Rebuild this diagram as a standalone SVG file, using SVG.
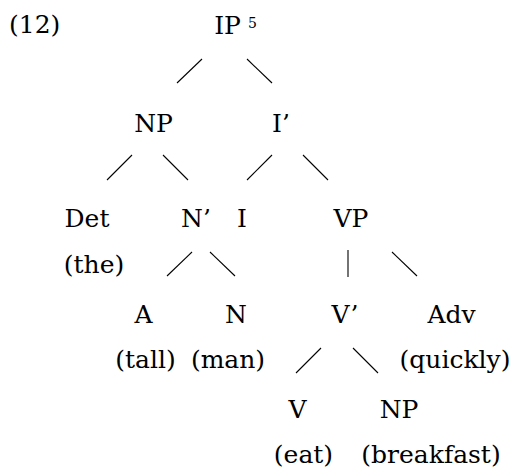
<svg xmlns="http://www.w3.org/2000/svg" width="520" height="468" viewBox="0 0 520 468">
<style>
text{font-family:"DejaVu Serif","Liberation Serif",serif;font-size:25px;fill:#000;text-anchor:middle}
.sup{font-size:14px;text-anchor:start}
.num{text-anchor:start}
#edges line{stroke:#000;stroke-width:1.1;fill:none}
</style>
<rect width="520" height="468" fill="#fff"/>
<text class="num" x="9" y="33">(12)</text>
<g id="edges">
<line x1="202" y1="59" x2="177" y2="83"/>
<line x1="247" y1="59" x2="272" y2="83"/>
<line x1="132" y1="155" x2="107" y2="180"/>
<line x1="163" y1="155" x2="188" y2="180"/>
<line x1="272" y1="155" x2="247" y2="180"/>
<line x1="303" y1="155" x2="328" y2="180"/>
<line x1="192" y1="252" x2="167" y2="276"/>
<line x1="210" y1="252" x2="235" y2="276"/>
<line x1="348" y1="250" x2="348" y2="277"/>
<line x1="392" y1="252" x2="417" y2="276"/>
<line x1="321" y1="348" x2="296" y2="373"/>
<line x1="353" y1="348" x2="378" y2="373"/>
</g>
<g id="IP"><text x="227.5" y="34">IP</text><text class="sup" x="248" y="28">5</text></g>
<g id="NP1"><text x="153.5" y="132">NP</text></g>
<g id="Ibar"><text x="281" y="132">I’</text></g>
<g id="Det"><text x="87" y="227">Det</text><text x="94" y="273">(the)</text></g>
<g id="Nbar"><text x="196" y="227">N’</text></g>
<g id="I"><text x="242" y="227">I</text></g>
<g id="VP"><text x="351" y="227">VP</text></g>
<g id="A"><text x="143.5" y="323">A</text><text x="145.5" y="368">(tall)</text></g>
<g id="N"><text x="236" y="323">N</text><text x="228" y="368">(man)</text></g>
<g id="Vbar"><text x="345" y="323">V’</text></g>
<g id="Adv"><text x="451.5" y="323">Adv</text><text x="455" y="368">(quickly)</text></g>
<g id="V"><text x="297.5" y="418">V</text><text x="303.5" y="463">(eat)</text></g>
<g id="NP2"><text x="399" y="418">NP</text><text x="431" y="463">(breakfast)</text></g>
</svg>
